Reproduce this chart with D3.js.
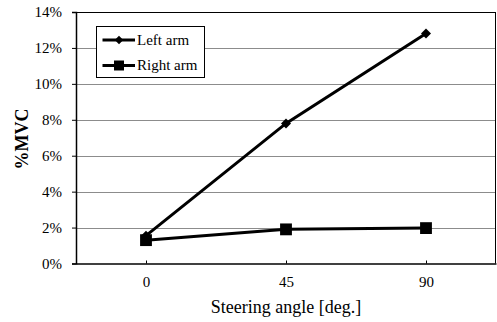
<!DOCTYPE html>
<html>
<head>
<meta charset="utf-8">
<script src="https://cdn.jsdelivr.net/npm/d3@7"></script>
<style>
  body { margin: 0; background: #fff; }
  svg text { font-family: 'Liberation Serif', 'Times New Roman', serif; fill: #000; }
</style>
</head>
<body>
<div id="chart"></div>
<script>
const angles = ['0', '45', '90'];
const leftArm = [1.55, 7.8, 12.8];
const rightArm = [1.3, 1.9, 1.97];
const yTicks = [0, 2, 4, 6, 8, 10, 12, 14];

const width = 497;
const height = 322;
const margin = { top: 12, right: 1, bottom: 58.5, left: 76 };

const svg = d3
  .select('#chart')
  .append('svg')
  .attr('width', width)
  .attr('height', height);

// scales
const xScale = d3
  .scalePoint()
  .domain(angles)
  .range([margin.left, width - margin.right])
  .padding(0.5);

const yScale = d3
  .scaleLinear()
  .domain([0, 14])
  .range([height - margin.bottom, margin.top]);

// gridlines
svg
  .append('g')
  .selectAll('line')
  .data(yTicks.slice(1))
  .enter()
  .append('line')
  .attr('x1', margin.left)
  .attr('x2', width - margin.right)
  .attr('y1', d => Math.round(yScale(d)) + 0.5)
  .attr('y2', d => Math.round(yScale(d)) + 0.5)
  .attr('stroke', d => (d === 14 ? '#000' : '#8c8c8c'))
  .attr('stroke-width', 1);

// right frame
svg
  .append('line')
  .attr('x1', width - margin.right - 0.5)
  .attr('x2', width - margin.right - 0.5)
  .attr('y1', margin.top)
  .attr('y2', height - margin.bottom)
  .attr('stroke', '#000');

// y axis
const yAxisGroup = svg
  .append('g')
  .attr('transform', `translate(${margin.left}, 0)`)
  .call(d3.axisLeft(yScale).tickValues(yTicks).tickFormat(d => d + '%').tickSize(4).tickPadding(10));
yAxisGroup.attr('font-family', null);
yAxisGroup.select('.domain').attr('stroke', '#000').attr('stroke-width', 1.5);
yAxisGroup.selectAll('text').attr('font-size', 15);

// x axis
const xAxisGroup = svg
  .append('g')
  .attr('transform', `translate(0, ${height - margin.bottom})`)
  .call(d3.axisBottom(xScale).tickSizeInner(-3).tickSizeOuter(0).tickPadding(13));
xAxisGroup.attr('font-family', null);
xAxisGroup.select('.domain').attr('stroke', '#000').attr('stroke-width', 1.5);
xAxisGroup.selectAll('text').attr('font-size', 15);

// axis titles
svg
  .append('text')
  .attr('x', (margin.left + width - margin.right) / 2)
  .attr('y', 313)
  .attr('text-anchor', 'middle')
  .attr('font-size', 18)
  .text('Steering angle [deg.]');

svg
  .append('text')
  .attr('transform', 'rotate(-90)')
  .attr('x', -139)
  .attr('y', 28)
  .attr('text-anchor', 'middle')
  .attr('font-size', 18)
  .attr('font-weight', 'bold')
  .text('%MVC');

// lines
const lineFunc = d3
  .line()
  .x((d, i) => xScale(angles[i]))
  .y(d => yScale(d));

[rightArm, leftArm].forEach(series => {
  svg
    .append('path')
    .attr('d', lineFunc(series))
    .attr('stroke', '#000')
    .attr('stroke-width', 3)
    .attr('fill', 'none');
});

// markers
const diamond = d3.symbol().type(d3.symbolSquare).size(50);
const square = d3.symbol().type(d3.symbolSquare).size(140);

svg
  .append('g')
  .selectAll('path')
  .data(rightArm)
  .enter()
  .append('path')
  .attr('d', square)
  .attr('transform', (d, i) => `translate(${xScale(angles[i])}, ${yScale(d)})`)
  .attr('fill', '#000');

svg
  .append('g')
  .selectAll('path')
  .data(leftArm)
  .enter()
  .append('path')
  .attr('d', diamond)
  .attr('transform', (d, i) => `translate(${xScale(angles[i])}, ${yScale(d)}) rotate(45)`)
  .attr('fill', '#000');

// legend
const legend = svg.append('g').attr('transform', 'translate(96.5, 26.5)');
legend
  .append('rect')
  .attr('width', 108)
  .attr('height', 51)
  .attr('fill', '#fff')
  .attr('stroke', '#000');

const legendItems = [
  { name: 'Left arm', symbol: d3.symbol().type(d3.symbolSquare).size(36), rot: 45, y: 13.5 },
  { name: 'Right arm', symbol: d3.symbol().type(d3.symbolSquare).size(100), rot: 0, y: 39 }
];
legendItems.forEach(item => {
  legend
    .append('line')
    .attr('x1', 6)
    .attr('x2', 38.5)
    .attr('y1', item.y)
    .attr('y2', item.y)
    .attr('stroke', '#000')
    .attr('stroke-width', 3);
  legend
    .append('path')
    .attr('d', item.symbol)
    .attr('transform', `translate(22.5, ${item.y}) rotate(${item.rot})`)
    .attr('fill', '#000');
  legend
    .append('text')
    .attr('x', 40.5)
    .attr('y', item.y + 4.5)
    .attr('font-size', 15)
    .text(item.name);
});
</script>
</body>
</html>
